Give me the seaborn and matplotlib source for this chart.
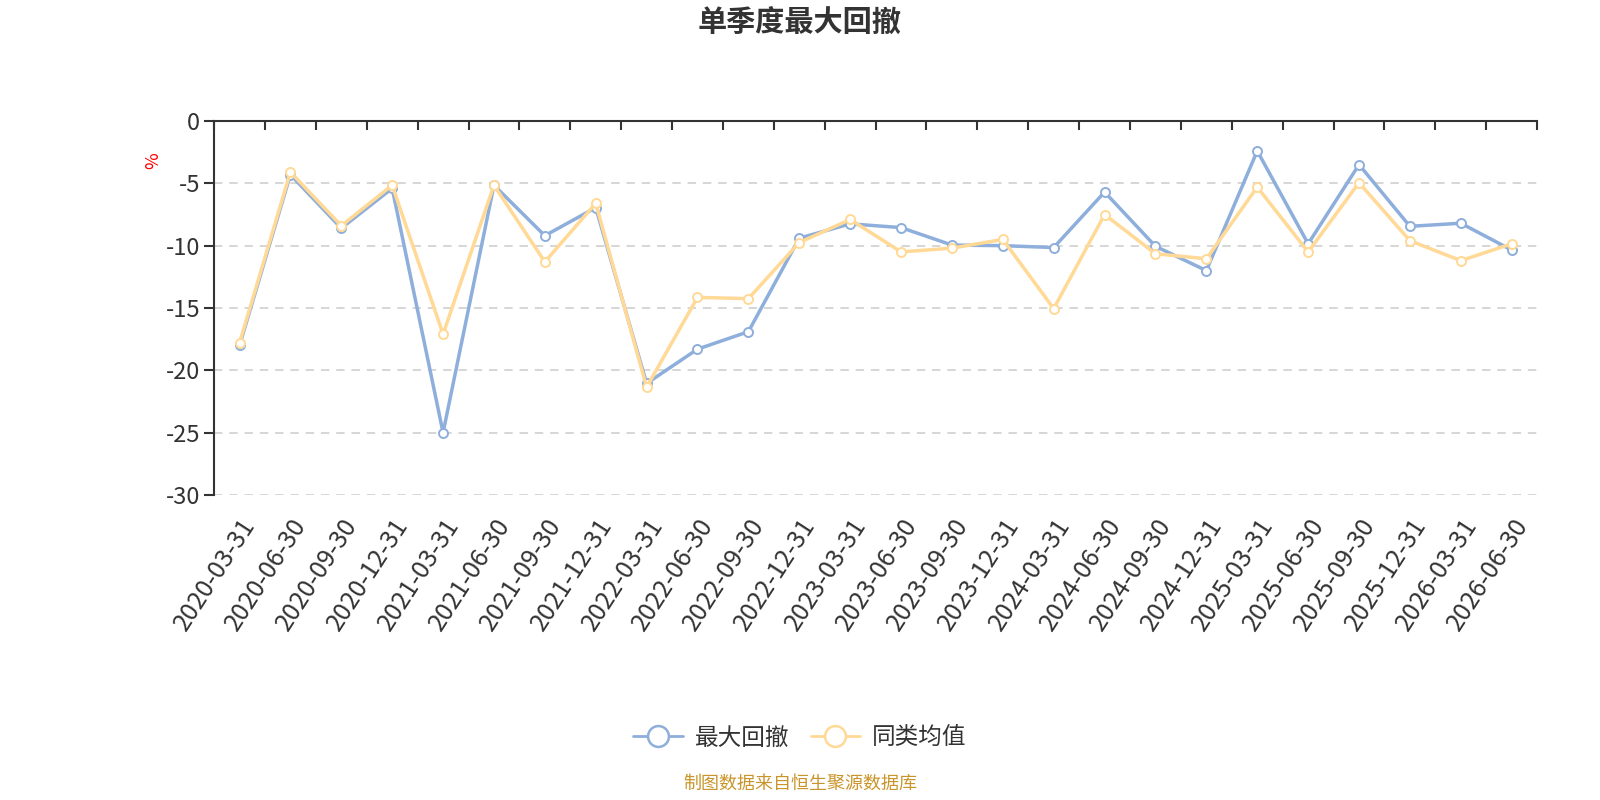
import pandas as pd
import matplotlib
matplotlib.use('Agg')
import matplotlib.pyplot as plt
import seaborn as sns
from matplotlib.lines import Line2D
from matplotlib.ticker import FixedLocator

dates = ['2020-03-31', '2020-06-30', '2020-09-30', '2020-12-31',
         '2021-03-31', '2021-06-30', '2021-09-30', '2021-12-31',
         '2022-03-31', '2022-06-30', '2022-09-30', '2022-12-31',
         '2023-03-31', '2023-06-30', '2023-09-30', '2023-12-31',
         '2024-03-31', '2024-06-30', '2024-09-30', '2024-12-31',
         '2025-03-31', '2025-06-30', '2025-09-30', '2025-12-31',
         '2026-03-31', '2026-06-30']

# 最大回撤
max_dd = [-18.0, -4.3, -8.6, -5.4, -25.0, -5.15, -9.2, -6.95,
          -21.05, -18.3, -16.9, -9.4, -8.25, -8.55, -9.95, -10.0,
          -10.15, -5.7, -10.05, -12.0, -2.4, -9.85, -3.5, -8.45,
          -8.2, -10.35]
# 同类均值
peer_avg = [-17.8, -4.1, -8.4, -5.15, -17.1, -5.15, -11.3, -6.6,
            -21.35, -14.15, -14.25, -9.75, -7.9, -10.5, -10.2, -9.5,
            -15.05, -7.5, -10.65, -11.05, -5.3, -10.5, -4.95, -9.6,
            -11.2, -9.85]

series_names = ['最大回撤', '同类均值']
colors = ['#8eaedb', '#ffd995']

df = pd.DataFrame({
    'date': dates * 2,
    'value': max_dd + peer_avg,
    'series': [series_names[0]] * len(dates) + [series_names[1]] * len(dates),
})

sns.set_style('white')
plt.rcParams['font.family'] = ['Noto Sans CJK SC', 'DejaVu Sans']
plt.rcParams['axes.unicode_minus'] = False

fig = plt.figure(figsize=(16, 8), dpi=100)
ax = fig.add_axes([0.1338, 0.38125, 0.8269, 0.4675])

# gridlines under the data
for v in [-5, -10, -15, -20, -25, -30]:
    ax.axhline(v, color='#cccccc', linestyle=(0, (5.5, 4.5)), linewidth=1.1, zorder=0)

sns.lineplot(data=df, x='date', y='value', hue='series', hue_order=series_names,
             palette=colors, marker='o', markersize=6.5, markerfacecolor='white',
             markeredgewidth=1.4, linewidth=2.5, legend=False, ax=ax)
# seaborn paints marker edges white; give them the line colour
for line in ax.lines:
    if line.get_marker() == 'o':
        line.set_markeredgecolor(line.get_color())

n = len(dates)
ax.set_xlim(-0.5, n - 0.5)
ax.set_ylim(-30, 0)
ax.set_yticks([0, -5, -10, -15, -20, -25, -30])
ax.set_xticks(range(n))
ax.set_xticklabels(dates, rotation=57, ha='right', rotation_mode='anchor',
                   fontsize=18, color='#333333')
ax.xaxis.set_minor_locator(FixedLocator([k - 0.5 for k in range(n + 1)]))
ax.tick_params(axis='x', which='major', length=0, pad=13, top=False, bottom=True)
ax.tick_params(axis='x', which='minor', top=True, bottom=False, direction='in',
               length=6.5, width=1.5, color='#333333')
ax.tick_params(axis='y', which='major', left=True, length=7, width=1.5,
               color='#333333', labelsize=17, labelcolor='#333333', pad=3)
ax.set_xlabel('')
ax.set_ylabel('%', color='red', fontsize=13)
ax.yaxis.set_label_coords(-0.039, 0.893)

for s in ['right', 'bottom']:
    ax.spines[s].set_visible(False)
for s in ['top', 'left']:
    ax.spines[s].set_color('#333333')
    ax.spines[s].set_linewidth(1.5)

fig.text(0.5, 0.972, '单季度最大回撤', ha='center', va='center',
         fontsize=21, fontweight='bold', color='#333333')

handles = [Line2D([0], [0], color=c, linewidth=2, marker='o', markersize=15,
                  markerfacecolor='white', markeredgewidth=1.8) for c in colors]
fig.legend(handles, series_names, loc='center', bbox_to_anchor=(0.5, 0.0775),
           ncol=2, frameon=False, fontsize=17, handlelength=2.1,
           columnspacing=0.9, handletextpad=0.5, labelcolor='#333333')

fig.text(0.5, 0.02, '制图数据来自恒生聚源数据库', ha='center', va='center',
         fontsize=13, color='#c9952a')

fig.savefig('out.png', dpi=100)
